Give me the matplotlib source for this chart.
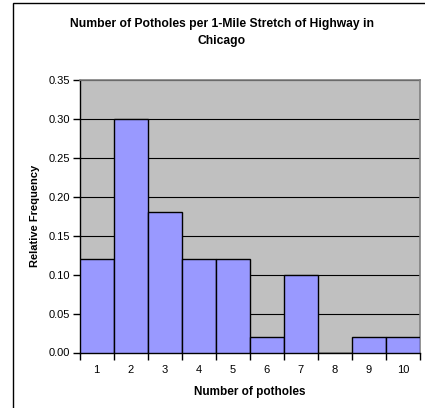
import matplotlib
matplotlib.use("Agg")
from matplotlib import pyplot as plt
from matplotlib import patches

potholes = [1, 2, 3, 4, 5, 6, 7, 8, 9, 10]
rel_freq = [0.12, 0.30, 0.18, 0.12, 0.12, 0.02, 0.10, 0.00, 0.02, 0.02]
y_ticks = [0.00, 0.05, 0.10, 0.15, 0.20, 0.25, 0.30, 0.35]

plt.rcParams['font.family'] = ['Liberation Sans', 'DejaVu Sans']

W, H = 425, 408
fig = plt.figure(figsize=(W / 100, H / 100), dpi=100)
fig.patch.set_facecolor('white')

# outer chart frame (right and bottom edges run off the picture)
frame = patches.Rectangle((12.5 / W, -0.1), 1.2, 1 - 3.5 / H + 0.1,
                          transform=fig.transFigure, fill=False,
                          edgecolor='black', linewidth=1.0)
fig.patches.append(frame)

# plot area in pixels: left 79, right 420, top 80, bottom 352
ax = fig.add_axes([79.5 / W, 1 - 352.5 / H, (420 - 79.5) / W, (352.5 - 80) / H])
ax.set_facecolor('#C0C0C0')

ax.bar(potholes, rel_freq, width=1.0, color='#9999FF', edgecolor='black',
       linewidth=1.0, zorder=3)

ax.set_xlim(0.5, 10.5)
ax.set_ylim(0, 0.35)
ax.set_yticks(y_ticks)
ax.set_yticklabels([f"{v:.2f}" for v in y_ticks])
ax.yaxis.grid(True, color='black', linewidth=0.8, zorder=1)
ax.set_axisbelow(True)

# x ticks at bin edges, labels centred under bars
ax.set_xticks([x + 0.5 for x in [0] + potholes])
ax.set_xticklabels([])
ax.set_xticks(potholes, minor=True)
ax.set_xticklabels([str(p) for p in potholes], minor=True)
ax.tick_params(axis='x', which='minor', length=0, pad=9, labelsize=8)
ax.tick_params(axis='x', which='major', length=5, width=1, direction='out')
ax.tick_params(axis='y', length=5, width=1, direction='out', labelsize=8, pad=2)

for side in ['top', 'right']:
    ax.spines[side].set_color('#808080')
    ax.spines[side].set_linewidth(1.2)
for side in ['left', 'bottom']:
    ax.spines[side].set_color('black')
    ax.spines[side].set_linewidth(1.0)

ax.set_xlabel('Number of potholes', fontsize=8.5, fontweight='bold', labelpad=8)
ax.set_ylabel('Relative Frequency', fontsize=8, fontweight='bold', labelpad=6)

fig.text(222 / W, 1 - 32.5 / H,
         'Number of Potholes per 1-Mile Stretch of Highway in\nChicago',
         ha='center', va='center', fontsize=8.7, fontweight='bold',
         linespacing=1.45)

fig.savefig('out.png', dpi=100)
